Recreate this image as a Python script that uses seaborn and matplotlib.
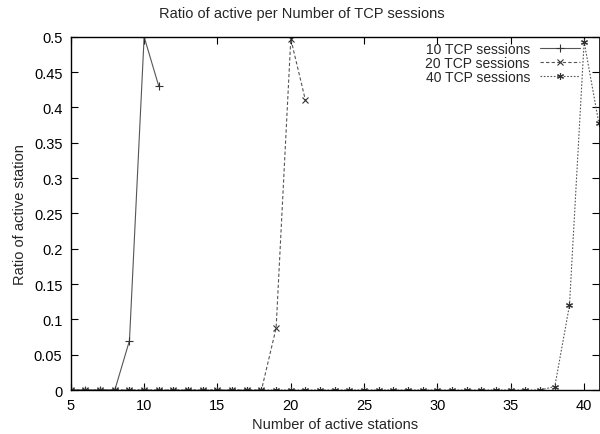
import matplotlib
matplotlib.use("Agg")
import matplotlib.pyplot as plt
import seaborn as sns
import pandas as pd
import numpy as np

stations_10 = list(range(5, 12))
ratio_10 = [0, 0, 0, 0, 0.07, 0.5, 0.43]

stations_20 = list(range(5, 22))
ratio_20 = [0]*14 + [0.088, 0.497, 0.41]

stations_40 = list(range(5, 42))
ratio_40 = [0]*33 + [0.005, 0.12, 0.493, 0.378]

labels = ["10 TCP sessions", "20 TCP sessions", "40 TCP sessions"]

sns.set_theme(style="ticks")
plt.rcParams['font.family'] = ['Liberation Sans', 'DejaVu Sans']

fig = plt.figure(figsize=(6.0, 4.35), dpi=100)
ax = fig.add_axes([0.118, 0.101, 0.880, 0.812])

series = [
    (stations_10, ratio_10, labels[0], '-', '+', 6),
    (stations_20, ratio_20, labels[1], (0, (3, 2)), 'x', 4.5),
    (stations_40, ratio_40, labels[2], (0, (1.5, 1.5)), (6, 2, 0), 5),
]
for xs, ys, lab, ls, mk, ms in series:
    df = pd.DataFrame({"x": xs, "y": ys})
    sns.lineplot(data=df, x="x", y="y", ax=ax, color="#555555", linewidth=0.8,
                 linestyle=ls, marker=mk, markersize=ms, markeredgewidth=0.8,
                 markeredgecolor="#333333", label=lab)

ax.set_xlim(5, 41)
ax.set_ylim(0, 0.5)
ax.set_xticks([5, 10, 15, 20, 25, 30, 35, 40])
ax.set_yticks([0, 0.05, 0.1, 0.15, 0.2, 0.25, 0.3, 0.35, 0.4, 0.45, 0.5])
ax.set_yticklabels(["0", "0.05", "0.1", "0.15", "0.2", "0.25", "0.3", "0.35", "0.4", "0.45", "0.5"])
ax.tick_params(direction="in", top=True, right=True, length=5, width=0.8,
               labelsize=10.5, colors="black", pad=6)
for s in ax.spines.values():
    s.set_linewidth(1.0)
    s.set_color("black")
ax.spines['right'].set_linewidth(0.6)

ax.set_xlabel("Number of active stations", fontsize=10.5, labelpad=3)
ax.set_ylabel("Ratio of active station", fontsize=10.5, labelpad=5)
fig.text(0.503, 0.968, "Ratio of active per Number of TCP sessions", fontsize=10.5,
         ha="center", va="center")

leg = ax.legend(loc="upper right", frameon=False, markerfirst=False, fontsize=10,
                handlelength=2.9, handletextpad=0.7, labelspacing=0.0,
                borderaxespad=0.2, bbox_to_anchor=(0.98, 1.01))

fig.savefig("out.png", dpi=100)
